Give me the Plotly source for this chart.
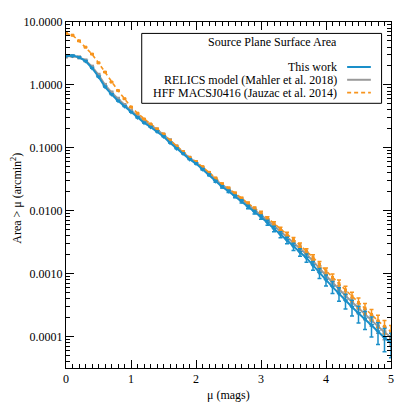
import plotly.graph_objects as go

# magnification bins (mags)
mu = [round(0.1 * i, 1) for i in range(51)]

# cumulative source-plane area > mu (arcmin^2)
this_work = [2.88, 2.92, 2.75, 2.40, 1.86, 1.35, 0.933, 0.708, 0.562, 0.457,
             0.372, 0.302, 0.251, 0.214, 0.182, 0.151, 0.120, 0.0977, 0.0813, 0.0661,
             0.0562, 0.0457, 0.0372, 0.0295, 0.0240, 0.0204, 0.0170, 0.0141, 0.0115, 0.00955,
             0.00794, 0.00646, 0.00513, 0.00417, 0.00339, 0.00269, 0.00219, 0.00178, 0.00135, 0.00102,
             0.000794, 0.000617, 0.000479, 0.000372, 0.000295, 0.000234, 0.000191, 0.000151, 0.000120, 0.0000955,
             0.0000794]
relics = [2.82, 2.88, 2.75, 2.45, 1.95, 1.45, 1.00, 0.759, 0.603, 0.479,
          0.389, 0.324, 0.269, 0.229, 0.195, 0.162, 0.132, 0.105, 0.0851, 0.0692,
          0.0589, 0.0479, 0.0398, 0.0316, 0.0257, 0.0219, 0.0182, 0.0151, 0.0126, 0.0105,
          0.00871, 0.00708, 0.00575, 0.00468, 0.00380, 0.00309, 0.00251, 0.00204, 0.00158, 0.00120,
          0.000933, 0.000724, 0.000562, 0.000447, 0.000355, 0.000282, 0.000229, 0.000182, 0.000145, 0.000117,
          0.0000977]
hff = [6.61, 6.17, 5.01, 3.98, 3.09, 2.24, 1.60, 1.11, 0.813, 0.603,
       0.447, 0.355, 0.288, 0.240, 0.200, 0.166, 0.132, 0.107, 0.0871, 0.0708,
       0.0603, 0.0501, 0.0407, 0.0331, 0.0269, 0.0229, 0.0191, 0.0158, 0.0132, 0.0110,
       0.00933, 0.00759, 0.00631, 0.00513, 0.00427, 0.00347, 0.00282, 0.00229, 0.00182, 0.00141,
       0.00110, 0.000871, 0.000692, 0.000550, 0.000437, 0.000347, 0.000282, 0.000224, 0.000178, 0.000145,
       0.000120]

# fractional 1-sigma errors
this_work_err = [0.01] * 20 + [0.02, 0.025, 0.03, 0.035, 0.04, 0.045, 0.05, 0.06, 0.065, 0.07,
                               0.08, 0.09, 0.10, 0.11, 0.12, 0.13, 0.14, 0.15, 0.16, 0.18,
                               0.20, 0.22, 0.24, 0.26, 0.28, 0.30, 0.32, 0.35, 0.38, 0.40, 0.42]
relics_err = [0.01] * 20 + [0.015, 0.015, 0.02, 0.02, 0.025, 0.03, 0.03, 0.035, 0.04, 0.045,
                            0.05, 0.055, 0.06, 0.065, 0.07, 0.08, 0.085, 0.09, 0.10, 0.11,
                            0.12, 0.13, 0.14, 0.15, 0.16, 0.18, 0.19, 0.20, 0.22, 0.24, 0.25]
hff_err = [0.01] * 20 + [0.015, 0.015, 0.02, 0.02, 0.025, 0.03, 0.03, 0.035, 0.04, 0.045,
                         0.05, 0.055, 0.06, 0.065, 0.07, 0.08, 0.085, 0.09, 0.10, 0.11,
                         0.12, 0.13, 0.14, 0.15, 0.16, 0.18, 0.19, 0.20, 0.22, 0.24, 0.25]

legend_title = "Source Plane Surface Area"
labels = ["This work", "RELICS model (Mahler et al. 2018)", "HFF MACSJ0416 (Jauzac et al. 2014)"]
colors = ["#1a8fc9", "#9a9a9a", "#f7941d"]
x_title = "μ (mags)"
y_title = "Area > μ (arcmin<sup>2</sup>)"

FONT = "Liberation Serif, Times New Roman, serif"

fig = go.Figure()

series = [
    (relics, relics_err, colors[1], "solid", "square", 4),
    (hff, hff_err, colors[2], "dash", "square", 3),
    (this_work, this_work_err, colors[0], "solid", "triangle-down", 5),
]
for vals, frac, col, dash, sym, msize in series:
    fig.add_trace(go.Scatter(
        x=mu, y=vals,
        mode="lines+markers",
        line=dict(color=col, width=2 if dash == "solid" else 1.6,
                  dash="4px,3px" if dash == "dash" else "solid"),
        marker=dict(color=col, size=msize, symbol=sym),
        error_y=dict(type="data", array=[v * f for v, f in zip(vals, frac)],
                     color=col, thickness=1.5, width=2),
        showlegend=False,
    ))

# hand-made legend box (samples sit on the right)
fig.add_shape(type="rect", xref="paper", yref="paper",
              x0=0.233, x1=0.971, y0=0.765, y1=0.967,
              line=dict(color="black", width=1), fillcolor="white", layer="above")
fig.add_annotation(text=legend_title, xref="paper", yref="paper", x=0.84, y=0.942,
                   xanchor="right", yanchor="middle", showarrow=False)
for k, (lab, col) in enumerate(zip(labels, colors)):
    yy = 0.870 - 0.037 * k
    fig.add_annotation(text=lab, xref="paper", yref="paper", x=0.84, y=yy,
                       xanchor="right", yanchor="middle", showarrow=False)
    fig.add_shape(type="line", xref="paper", yref="paper",
                  x0=0.865, x1=0.938, y0=yy, y1=yy, layer="above",
                  line=dict(color=col, width=2 if k < 2 else 1.6,
                            dash="4px,3px" if k == 2 else "solid"))

# axis titles
fig.add_annotation(text=x_title, xref="paper", yref="paper", x=0.5, y=-0.078,
                   xanchor="center", yanchor="middle", showarrow=False)
fig.add_annotation(text=y_title, xref="paper", yref="paper", x=-0.153, y=0.49,
                   xanchor="center", yanchor="middle", textangle=-90, showarrow=False)

# page body adds an 8px offset, so margins are shifted to compensate
fig.update_layout(
    width=411, height=411,
    margin=dict(l=58, r=28, t=14, b=51),
    paper_bgcolor="white", plot_bgcolor="white",
    font=dict(family=FONT, size=12, color="black"),
    xaxis=dict(
        range=[0, 5], dtick=1, tick0=0, automargin=False,
        ticks="inside", ticklen=8, tickwidth=1, tickcolor="black",
        minor=dict(dtick=0.1, ticks="inside", ticklen=4, tickcolor="black"),
        showline=True, linecolor="black", linewidth=1, mirror="ticks",
        showgrid=False, zeroline=False,
    ),
    yaxis=dict(
        type="log", range=[-4.5, 1], automargin=False,
        tickvals=[1e-4, 1e-3, 1e-2, 1e-1, 1, 10], tickformat=".4f",
        ticks="inside", ticklen=8, tickwidth=1, tickcolor="black",
        minor=dict(dtick="D1", ticks="inside", ticklen=4, tickcolor="black"),
        showline=True, linecolor="black", linewidth=1, mirror="ticks",
        showgrid=False, zeroline=False,
    ),
)

fig.write_html("out.html")
